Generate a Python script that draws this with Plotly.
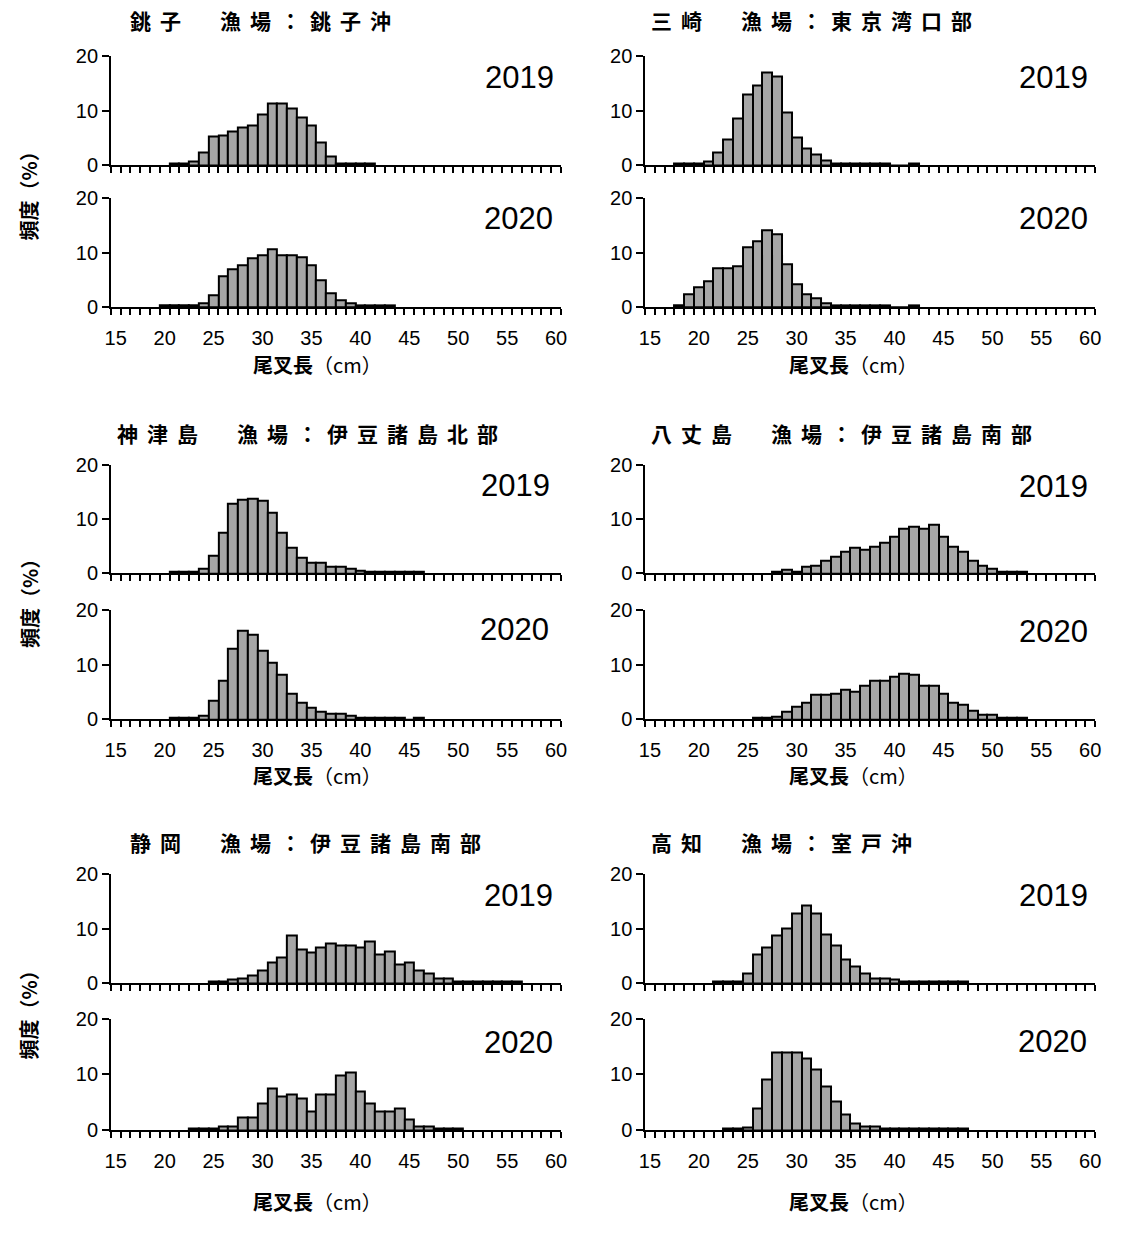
import plotly.graph_objects as go

# Page is 1129x1240; the figure sits inside the page's default 8 px body margin
PAGE_W, PAGE_H = 1129, 1240
OFF = 8
W, H = PAGE_W - 2 * OFF, PAGE_H - 2 * OFF

# Length classes (cm) and axis labels
X_LABELS = [15, 20, 25, 30, 35, 40, 45, 50, 55, 60]
Y_TICKS = [0, 10, 20]
YEARS = ["2019", "2020"]

SITE_TITLES = [
    "銚子　漁場：銚子沖",
    "三崎　漁場：東京湾口部",
    "神津島　漁場：伊豆諸島北部",
    "八丈島　漁場：伊豆諸島南部",
    "静岡　漁場：伊豆諸島南部",
    "高知　漁場：室戸沖",
]

# Frequency (%) per 1-cm fork-length class, listed from the first class (cm) given
choshi_2019_start = 21
choshi_2019 = [0.3, 0.3, 0.7, 2.4, 5.2, 5.5, 6.2, 6.9, 7.3, 9.3, 11.3, 11.3, 10.4,
               8.7, 7.3, 4.1, 1.6, 0.3, 0.3, 0.3, 0.3]
choshi_2020_start = 20
choshi_2020 = [0.3, 0.3, 0.3, 0.3, 0.6, 2.2, 5.6, 6.9, 7.6, 8.9, 9.6, 10.6, 9.6,
               9.6, 9.2, 7.6, 5.0, 2.6, 1.2, 0.6, 0.3, 0.3, 0.3, 0.3]

misaki_2019_start = 18
misaki_2019 = [0.3, 0.3, 0.3, 0.6, 2.3, 4.7, 8.6, 13.1, 14.6, 17.1, 16.4, 9.7, 5.1,
               3.0, 2.0, 0.9, 0.3, 0.3, 0.3, 0.3, 0.3, 0.3, 0.0, 0.0, 0.3]
misaki_2020_start = 18
misaki_2020 = [0.3, 2.3, 3.7, 4.7, 7.2, 7.2, 7.5, 10.9, 12.0, 14.1, 13.4, 7.8, 4.1,
               2.3, 1.6, 0.7, 0.3, 0.3, 0.3, 0.3, 0.3, 0.3, 0.0, 0.0, 0.3]

kozu_2019_start = 21
kozu_2019 = [0.3, 0.3, 0.3, 0.9, 3.3, 7.5, 12.8, 13.5, 13.8, 13.4, 11.2, 7.5, 4.7,
             2.9, 1.9, 1.9, 1.2, 1.2, 0.9, 0.5, 0.3, 0.3, 0.3, 0.3, 0.3, 0.3]
kozu_2020_start = 21
kozu_2020 = [0.3, 0.3, 0.3, 0.7, 3.4, 7.1, 12.8, 16.1, 15.5, 12.5, 10.4, 8.1, 4.7,
             3.1, 2.1, 1.4, 1.0, 1.0, 0.7, 0.3, 0.3, 0.3, 0.3, 0.3, 0.0, 0.3]

hachijo_2019_start = 28
hachijo_2019 = [0.25, 0.6, 0.25, 1.2, 1.5, 2.3, 3.0, 4.0, 4.7, 4.3, 5.0, 5.7, 6.8,
                8.2, 8.6, 8.2, 9.0, 6.8, 5.0, 4.0, 2.3, 1.5, 0.9, 0.3, 0.3, 0.3]
hachijo_2020_start = 26
hachijo_2020 = [0.3, 0.3, 0.5, 1.4, 2.3, 3.0, 4.4, 4.4, 4.7, 5.4, 5.1, 6.1, 7.0,
                7.0, 7.7, 8.4, 8.1, 6.1, 6.1, 4.7, 3.0, 2.7, 1.6, 0.9, 0.9, 0.3,
                0.3, 0.3]

shizuoka_2019_start = 25
shizuoka_2019 = [0.3, 0.3, 0.6, 0.9, 1.4, 2.3, 3.8, 4.8, 8.8, 6.2, 5.6, 6.5, 7.3,
                 7.0, 6.9, 6.5, 7.6, 5.2, 5.9, 3.4, 3.8, 2.3, 1.7, 0.9, 0.9, 0.3,
                 0.3, 0.3, 0.3, 0.3, 0.3, 0.3]
shizuoka_2020_start = 23
shizuoka_2020 = [0.3, 0.3, 0.3, 0.6, 0.6, 2.3, 2.3, 4.7, 7.4, 6.0, 6.4, 5.7, 3.3,
                 6.4, 6.4, 9.8, 10.4, 7.0, 4.7, 3.3, 3.3, 3.9, 1.9, 0.6, 0.6, 0.3,
                 0.3, 0.3]

kochi_2019_start = 22
kochi_2019 = [0.3, 0.3, 0.3, 1.7, 5.2, 6.5, 8.7, 10.1, 12.9, 14.3, 12.9, 9.0, 6.9,
              4.4, 3.0, 1.7, 0.9, 0.9, 0.6, 0.3, 0.3, 0.3, 0.3, 0.3, 0.3, 0.3]
kochi_2020_start = 23
kochi_2020 = [0.3, 0.3, 0.5, 3.9, 9.1, 14.0, 14.0, 14.0, 12.8, 10.8, 7.8, 5.2, 2.8,
              1.2, 0.6, 0.6, 0.3, 0.3, 0.3, 0.3, 0.3, 0.3, 0.3, 0.3, 0.3]

SERIES = [
    ((choshi_2019_start, choshi_2019), (choshi_2020_start, choshi_2020)),
    ((misaki_2019_start, misaki_2019), (misaki_2020_start, misaki_2020)),
    ((kozu_2019_start, kozu_2019), (kozu_2020_start, kozu_2020)),
    ((hachijo_2019_start, hachijo_2019), (hachijo_2020_start, hachijo_2020)),
    ((shizuoka_2019_start, shizuoka_2019), (shizuoka_2020_start, shizuoka_2020)),
    ((kochi_2019_start, kochi_2019), (kochi_2020_start, kochi_2020)),
]

# ---- layout geometry (page pixels) ----
COL_X = [(114, 569), (654, 1109)]
ROW_Y = [
    ((54.3, 165.0), (198.8, 309.5)),
    ((470.0, 580.7), (617.8, 729.3)),
    ((887.3, 998.0), (1034.0, 1147.8)),
]
TITLE_POS = [(131, 17), (658, 17), (118, 438), (658, 438), (131, 854), (658, 854)]
YEAR_POS = [((564, 76), (563, 219.5)), ((1104, 76), (1104, 219.5)),
            ((560, 491), (559, 638)), ((1104, 492), (1104, 639.5)),
            ((563, 909), (563, 1058)), ((1104, 909), (1103, 1057.5))]
XTITLE_Y = [368, 786, 1220]
XTITLE_X = [323, 865]
YTITLE_Y = [191, 606, 1025]
YTITLE_X = 31

CJK = "Noto Sans CJK JP"
LATIN = "Liberation Sans, Arial, sans-serif"
BAR_FILL = "#A6A6A6"
TITLE_SPACING = "9px"


def px_x(v):
    return (v - OFF) / W


def px_y(v):
    return 1 - (v - OFF) / H


fig = go.Figure()
layout = {}
annotations = []
title_ids = []
minor_vals = [v + 0.5 for v in range(14, 61)]

idx = 0
for site, (title, pair) in enumerate(zip(SITE_TITLES, SERIES)):
    row, col = divmod(site, 2)
    x0, x1 = COL_X[col]
    for k, (start, vals) in enumerate(pair):
        idx += 1
        top, bottom = ROW_Y[row][k]
        xs = list(range(start, start + len(vals)))
        sfx = "" if idx == 1 else str(idx)
        fig.add_trace(go.Bar(
            x=xs, y=vals, width=1,
            marker=dict(color=BAR_FILL, line=dict(color="black", width=2)),
            xaxis="x" + sfx, yaxis="y" + sfx, showlegend=False,
            hoverinfo="x+y",
        ))
        layout["xaxis" + sfx] = dict(
            domain=[px_x(x0), px_x(x1)], anchor="y" + sfx,
            range=[14.5, 60.5], showgrid=False, zeroline=False,
            showline=True, linecolor="black", linewidth=1.5,
            tickmode="array", tickvals=X_LABELS,
            ticktext=[str(v) for v in X_LABELS],
            ticks="", showticklabels=(k == 1), ticklabelstandoff=12,
            tickfont=dict(family=LATIN, size=20, color="black"),
            minor=dict(tickmode="array", tickvals=minor_vals, ticks="outside",
                       ticklen=6, tickwidth=1.5, tickcolor="black"),
            fixedrange=True,
        )
        layout["yaxis" + sfx] = dict(
            domain=[px_y(bottom), px_y(top)], anchor="x" + sfx,
            range=[0, 20], showgrid=False, zeroline=False,
            showline=True, linecolor="black", linewidth=1.5,
            tickmode="array", tickvals=Y_TICKS, ticks="outside",
            ticklen=7, tickwidth=1.5, tickcolor="black",
            tickfont=dict(family=LATIN, size=20, color="black"),
            fixedrange=True,
        )
        yx, yy = YEAR_POS[site][k]
        annotations.append(dict(
            x=px_x(yx), y=px_y(yy), xref="paper", yref="paper",
            xanchor="right", yanchor="middle", showarrow=False,
            text=YEARS[k], font=dict(family=LATIN, size=31, color="black"),
        ))
    tx, ty = TITLE_POS[site]
    title_ids.append(len(annotations))
    annotations.append(dict(
        x=px_x(tx), y=px_y(ty), xref="paper", yref="paper",
        xanchor="left", yanchor="middle", showarrow=False, align="left",
        text="<b>" + title + "</b>", font=dict(family=CJK, size=21, color="black"),
    ))

for row in range(3):
    for col in range(2):
        annotations.append(dict(
            x=px_x(XTITLE_X[col]), y=px_y(XTITLE_Y[row]), xref="paper", yref="paper",
            xanchor="center", yanchor="middle", showarrow=False,
            text="<b>尾叉長</b>（cm）", font=dict(family=CJK, size=20, color="black"),
        ))
    annotations.append(dict(
        x=px_x(YTITLE_X), y=px_y(YTITLE_Y[row]), xref="paper", yref="paper",
        xanchor="center", yanchor="middle", showarrow=False, textangle=-90,
        text="<b>頻度（%）</b>", font=dict(family=CJK, size=20, color="black"),
    ))

fig.update_layout(
    width=W, height=H, margin=dict(l=0, r=0, t=0, b=0),
    paper_bgcolor="white", plot_bgcolor="white",
    bargap=0, annotations=annotations, **layout,
)

# wider character spacing for the panel titles
post_js = """
var gd = document.getElementById('{plot_id}');
var ids = %s;
gd.querySelectorAll('g.annotation').forEach(function (g) {
  if (ids.indexOf(+g.getAttribute('data-index')) >= 0) {
    var t = g.querySelector('text.annotation-text');
    if (t) { t.style.letterSpacing = '%s'; }
  }
});
""" % (str(title_ids), TITLE_SPACING)

fig.write_html("out.html", config={"displayModeBar": False}, post_script=post_js)
